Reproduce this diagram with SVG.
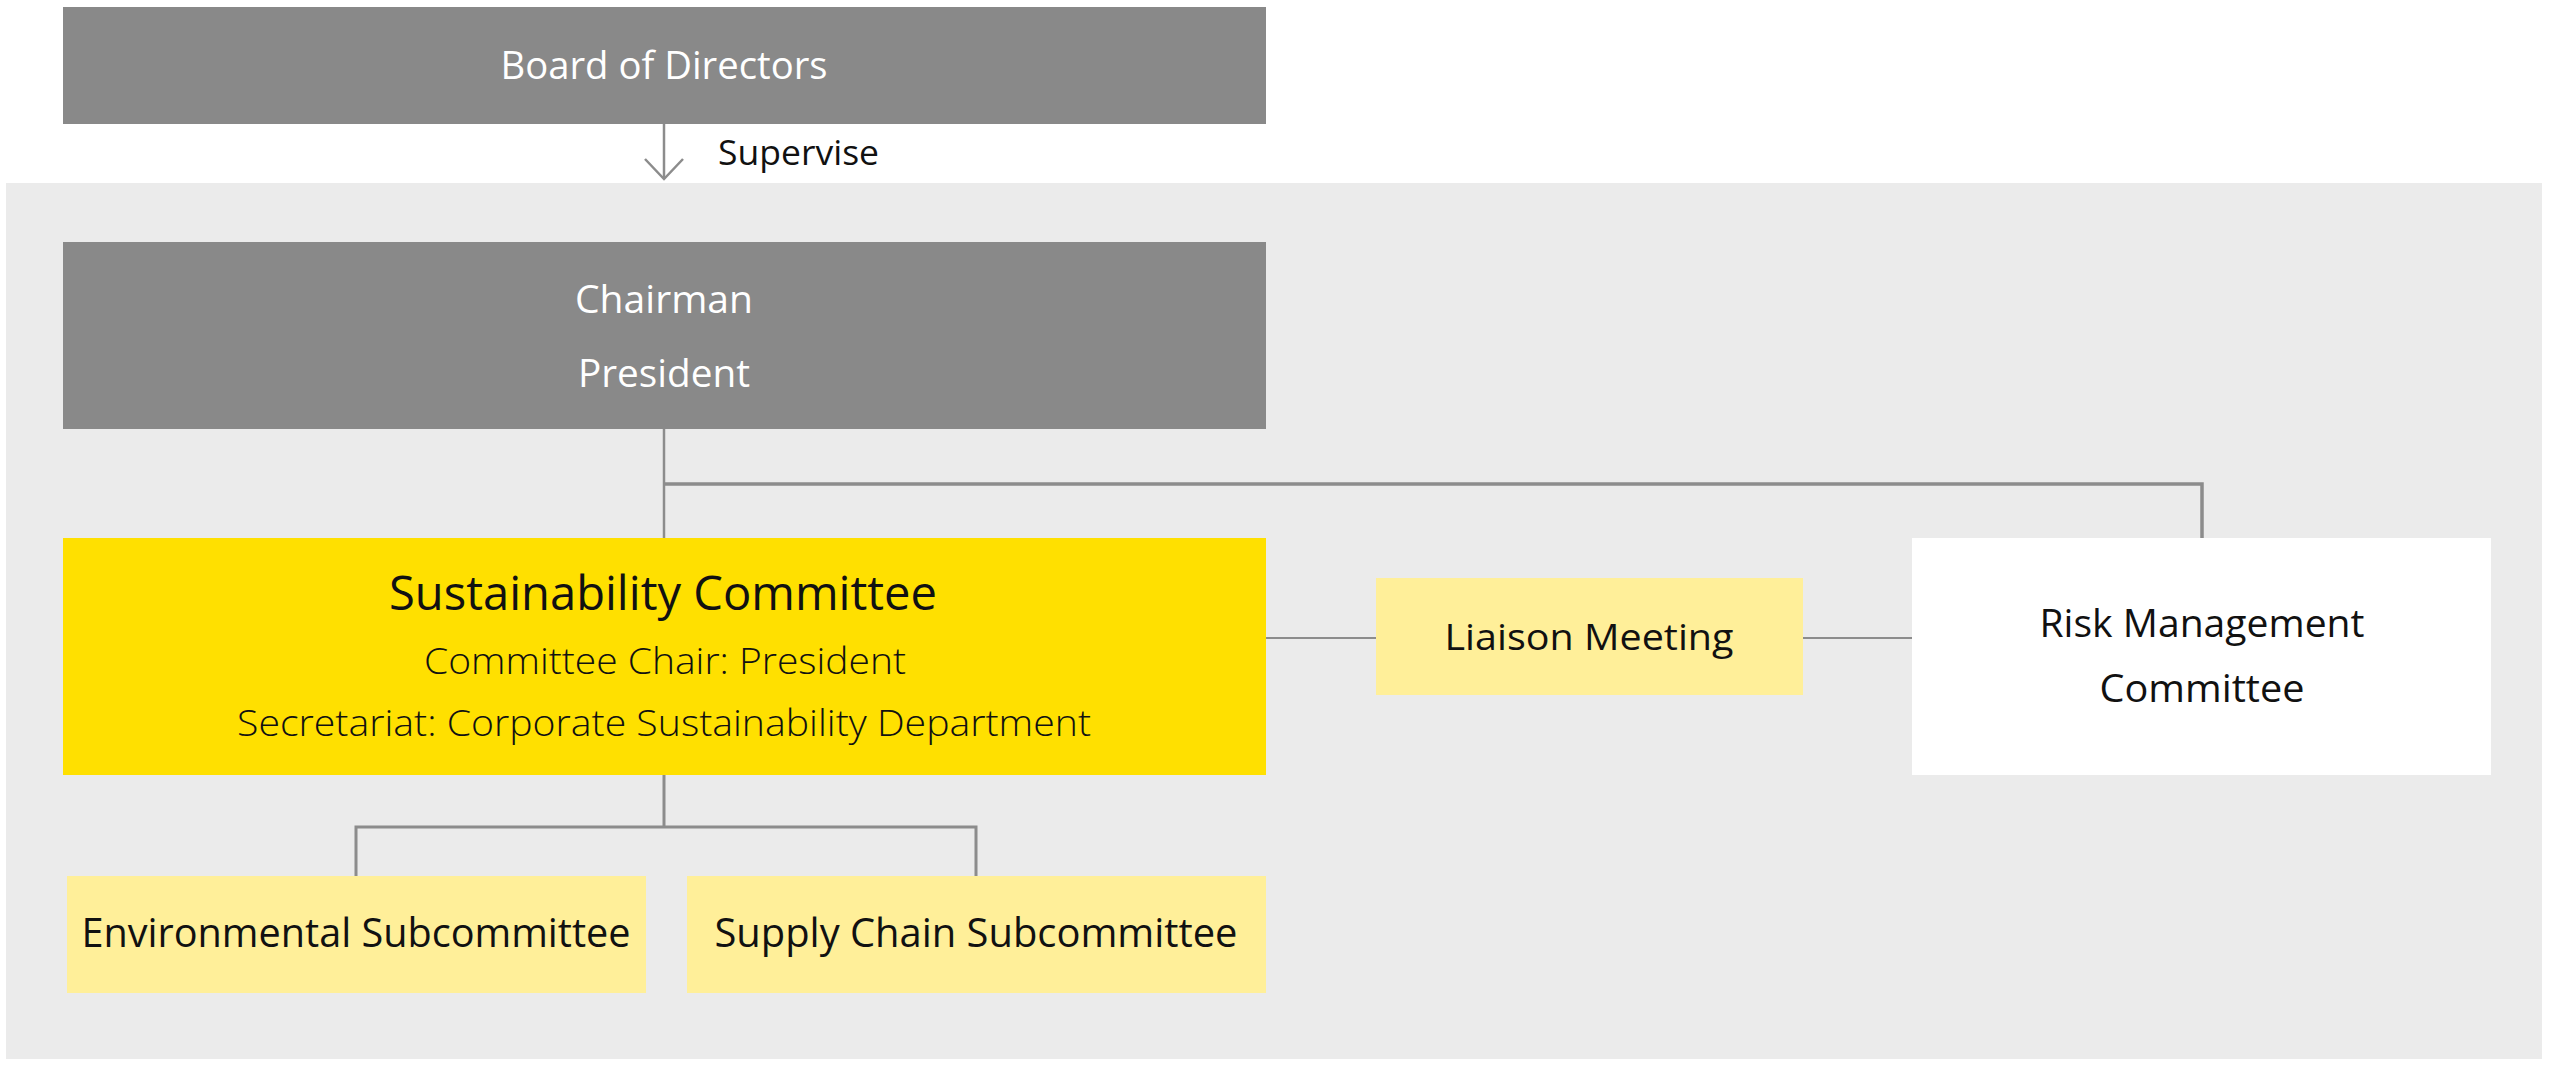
<svg xmlns="http://www.w3.org/2000/svg" width="2560" height="1070" viewBox="0 0 2560 1070">
<style>
  .t { font-family: "Open Sans", "Noto Sans", "Liberation Sans", sans-serif; text-anchor: middle; }
  .w { fill: #ffffff; }
  .k { fill: #111111; }
  .gray { fill: #898989; }
  .yel { fill: #ffe000; }
  .lyel { fill: #ffef99; }
  .conn { fill: none; stroke: #8c8c8c; stroke-linecap: butt; stroke-linejoin: miter; }
</style>
<rect x="0" y="0" width="2560" height="1070" fill="#ffffff"/>
<rect id="panel" x="6" y="183" width="2536" height="876" fill="#ebebeb"/>

<g id="connectors">
  <line class="conn" x1="664" y1="124" x2="664" y2="179" stroke-width="2.5"/>
  <polyline class="conn" points="645,159 664,179 683,159" stroke-width="2.5"/>
  <line class="conn" x1="664" y1="429" x2="664" y2="538" stroke-width="2.5"/>
  <polyline class="conn" points="664,484 2202,484 2202,538" stroke-width="3.5"/>
  <line class="conn" x1="664" y1="775" x2="664" y2="827" stroke-width="3"/>
  <polyline class="conn" points="356,876 356,827 976,827 976,876" stroke-width="3"/>
  <line class="conn" x1="1266" y1="638" x2="1376" y2="638" stroke-width="1.8"/>
  <line class="conn" x1="1803" y1="638" x2="1912" y2="638" stroke-width="1.8"/>
</g>

<g id="supervise-label">
  <text class="t k" x="718" y="165" font-size="35.5" style="text-anchor:start" textLength="161" lengthAdjust="spacingAndGlyphs">Supervise</text>
</g>

<g id="board">
  <rect class="gray" x="63" y="7" width="1203" height="117"/>
  <text class="t w" x="664" y="79" font-size="38.5" textLength="327" lengthAdjust="spacingAndGlyphs">Board of Directors</text>
</g>

<g id="chairman">
  <rect class="gray" x="63" y="242" width="1203" height="187"/>
  <text class="t w" x="664" y="313" font-size="38.5" textLength="178" lengthAdjust="spacingAndGlyphs">Chairman</text>
  <text class="t w" x="664" y="387" font-size="38.5" textLength="172" lengthAdjust="spacingAndGlyphs">President</text>
</g>

<g id="sustainability">
  <rect class="yel" x="63" y="538" width="1203" height="237"/>
  <text class="t k" x="663" y="610" font-size="47" textLength="548" lengthAdjust="spacingAndGlyphs">Sustainability Committee</text>
  <text class="t k" x="665" y="674" font-size="37.5" font-weight="300" textLength="482" lengthAdjust="spacingAndGlyphs">Committee Chair: President</text>
  <text class="t k" x="664" y="736" font-size="37.5" font-weight="300" textLength="854" lengthAdjust="spacingAndGlyphs">Secretariat: Corporate Sustainability Department</text>
</g>

<g id="liaison">
  <rect class="lyel" x="1376" y="578" width="427" height="117"/>
  <text class="t k" x="1589" y="650" font-size="37" textLength="289" lengthAdjust="spacingAndGlyphs">Liaison Meeting</text>
</g>

<g id="risk">
  <rect x="1912" y="538" width="579" height="237" fill="#ffffff"/>
  <text class="t k" x="2202" y="637" font-size="38.5" textLength="325" lengthAdjust="spacingAndGlyphs">Risk Management</text>
  <text class="t k" x="2202" y="702" font-size="38.5" textLength="205" lengthAdjust="spacingAndGlyphs">Committee</text>
</g>

<g id="environmental">
  <rect class="lyel" x="67" y="876" width="579" height="117"/>
  <text class="t k" x="356" y="947" font-size="39.5" textLength="549" lengthAdjust="spacingAndGlyphs">Environmental Subcommittee</text>
</g>

<g id="supplychain">
  <rect class="lyel" x="687" y="876" width="579" height="117"/>
  <text class="t k" x="976" y="947" font-size="39.5" textLength="523" lengthAdjust="spacingAndGlyphs">Supply Chain Subcommittee</text>
</g>
</svg>
